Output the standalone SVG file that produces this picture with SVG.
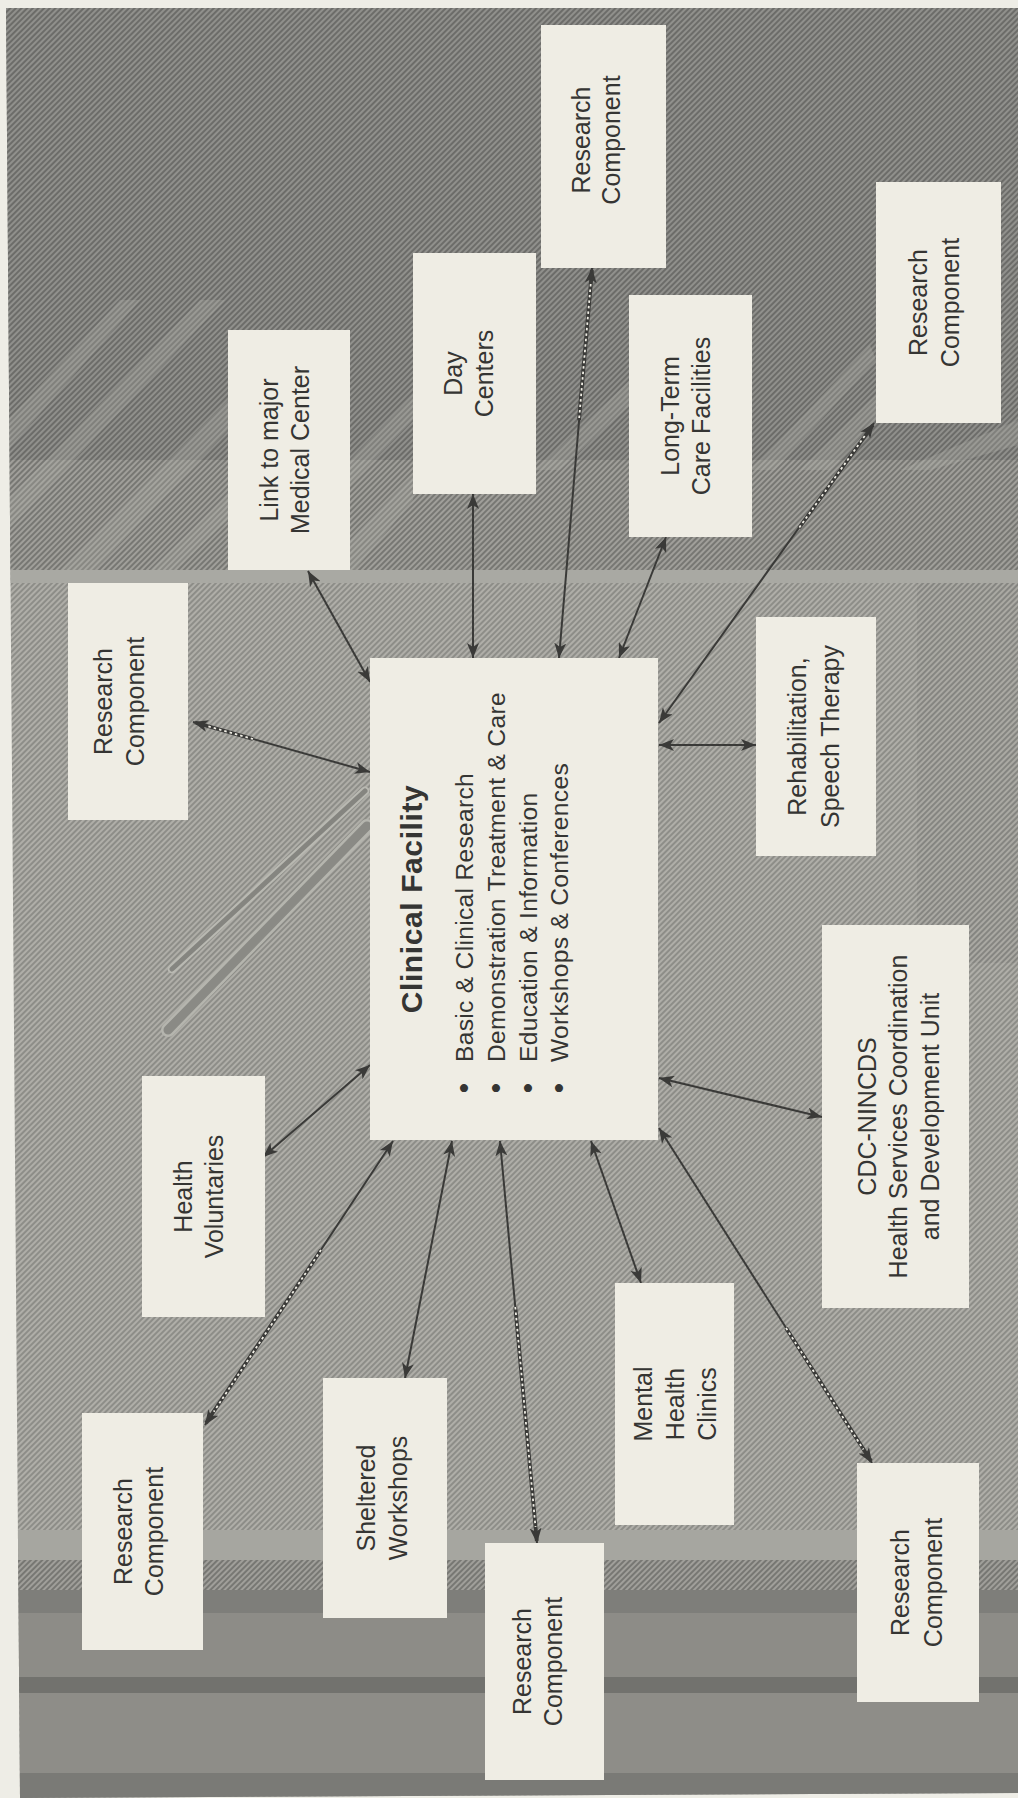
<svg xmlns="http://www.w3.org/2000/svg" width="1018" height="1798" viewBox="0 0 1018 1798">
<defs>
<style>
.box{fill:#efede4;}
.lbl{font-family:"Liberation Sans",Arial,Helvetica,sans-serif;font-size:25px;fill:#353533;text-anchor:middle;}
.title{font-family:"Liberation Sans",Arial,Helvetica,sans-serif;font-size:30px;font-weight:bold;fill:#353533;text-anchor:middle;letter-spacing:0.6px;}
.body{font-family:"Liberation Sans",Arial,Helvetica,sans-serif;font-size:24.6px;fill:#353533;text-anchor:start;letter-spacing:0.3px;}
.bul{font-family:"Liberation Sans",Arial,Helvetica,sans-serif;font-size:30px;fill:#353533;text-anchor:middle;}
.conn{stroke:#3a3a38;stroke-width:2;fill:none;marker-start:url(#ah);marker-end:url(#ah);}
.dbase{stroke:#3a3a38;stroke-width:3.8;fill:none;}
.dots{stroke:#f1efe6;stroke-width:1.8;stroke-dasharray:2.5 3;fill:none;}
.streak{fill:#b0b0a9;opacity:0.3;}
</style>
<marker id="ah" markerUnits="userSpaceOnUse" viewBox="0 0 16 12" markerWidth="16" markerHeight="12" refX="15" refY="6" orient="auto-start-reverse">
<path d="M0,0 L15,6 L0,12 L4,6 z" fill="#3a3a38"/>
</marker>
<pattern id="hMid" width="4" height="4" patternUnits="userSpaceOnUse" patternTransform="rotate(45)">
<rect width="4" height="4" fill="#afaea8"/><rect width="2" height="4" fill="#8d8d88"/>
</pattern>
<pattern id="hDark" width="4" height="4" patternUnits="userSpaceOnUse" patternTransform="rotate(45)">
<rect width="4" height="4" fill="#90908c"/><rect width="2" height="4" fill="#6c6c69"/>
</pattern>
<pattern id="hMed" width="4" height="4" patternUnits="userSpaceOnUse" patternTransform="rotate(45)">
<rect width="4" height="4" fill="#a09f9a"/><rect width="2" height="4" fill="#777773"/>
</pattern>
<clipPath id="page"><polygon points="6,8 1018,8 1018,1793 20,1798"/></clipPath>
</defs>

<g id="background">
<rect x="0" y="0" width="1018" height="1798" fill="#eeede6"/>
<g clip-path="url(#page)">
<rect x="0" y="0" width="1018" height="1798" fill="url(#hMid)"/>
<rect x="0" y="8" width="1018" height="452" fill="url(#hDark)"/>
<rect x="0" y="460" width="1018" height="110" fill="url(#hMed)"/>
<rect x="0" y="570" width="1018" height="13" fill="#a9a9a3"/>
<rect x="917" y="583" width="101" height="380" fill="url(#hMed)" opacity="0.35"/>
<g id="streaks">
<polygon class="streak" points="8,420 120,300 140,300 8,450"/>
<polygon class="streak" points="8,500 200,300 225,300 8,530"/>
<polygon class="streak" points="60,570 228,400 228,430 95,570"/>
<polygon class="streak" points="150,570 228,495 228,520 175,570"/>
<polygon class="streak" points="350,460 413,395 413,420 350,485"/>
<polygon class="streak" points="350,540 413,475 413,500 355,570 350,570"/>
<polygon class="streak" points="536,470 630,380 630,405 560,470"/>
<polygon class="streak" points="752,470 870,345 876,360 775,470"/>
<polygon class="streak" points="800,470 876,395 876,420 830,470"/>
<polygon class="streak" points="900,470 1018,420 1018,445 930,470"/>
</g>
<line x1="172" y1="969" x2="365" y2="791" stroke="#b9b9b2" stroke-width="9" stroke-linecap="round"/>
<line x1="172" y1="969" x2="365" y2="791" stroke="#858580" stroke-width="5" stroke-linecap="round"/>
<line x1="168" y1="1030" x2="367" y2="826" stroke="#b5b5ae" stroke-width="14" stroke-linecap="round"/>
<line x1="168" y1="1030" x2="367" y2="826" stroke="#8a8a85" stroke-width="9" stroke-linecap="round"/>
<rect x="0" y="1530" width="1018" height="30" fill="#a6a6a0"/>
<rect x="0" y="1560" width="1018" height="30" fill="url(#hMed)"/>
<rect x="0" y="1590" width="1018" height="23" fill="#7e7e7a"/>
<rect x="0" y="1613" width="1018" height="64" fill="#8d8c87"/>
<rect x="0" y="1677" width="1018" height="16" fill="#72726e"/>
<rect x="0" y="1693" width="1018" height="80" fill="#8e8d88"/>
<rect x="0" y="1773" width="1018" height="25" fill="#7a7a76"/>
</g>
</g>

<g id="connectors">
<line class="conn" x1="308" y1="571" x2="370" y2="682"/>
<line class="conn" x1="473" y1="494" x2="473" y2="658"/>
<line class="conn" x1="592" y1="268" x2="559" y2="658"/>
<line class="dbase" x1="592" y1="270" x2="579" y2="420"/>
<line class="dots" x1="590.7" y1="284" x2="579" y2="420"/>
<line class="conn" x1="666" y1="537" x2="619" y2="658"/>
<line class="conn" x1="874" y1="423" x2="659" y2="723"/>
<line class="dbase" x1="873" y1="425" x2="799" y2="528"/>
<line class="dots" x1="864.7" y1="436" x2="799" y2="528"/>
<line class="conn" x1="659" y1="745" x2="756" y2="745"/>
<line class="conn" x1="659" y1="1078" x2="822" y2="1117"/>
<line class="conn" x1="659" y1="1128" x2="872" y2="1463"/>
<line class="dbase" x1="786" y1="1328" x2="871" y2="1461"/>
<line class="dots" x1="786" y1="1328" x2="863.4" y2="1449.5"/>
<line class="conn" x1="591" y1="1141" x2="641" y2="1283"/>
<line class="conn" x1="500" y1="1141" x2="537" y2="1543"/>
<line class="dbase" x1="515.3" y1="1307" x2="536.8" y2="1541"/>
<line class="dots" x1="515.3" y1="1307" x2="535.5" y2="1527"/>
<line class="conn" x1="452" y1="1141" x2="405" y2="1378"/>
<line class="conn" x1="393" y1="1141" x2="205" y2="1425"/>
<line class="dbase" x1="321" y1="1250" x2="206" y2="1423"/>
<line class="dots" x1="321" y1="1250" x2="213.8" y2="1411.7"/>
<line class="conn" x1="370" y1="1065" x2="263" y2="1157"/>
<line class="conn" x1="193" y1="722" x2="370" y2="772"/>
<line class="dbase" x1="195" y1="722.5" x2="253" y2="739"/>
<line class="dots" x1="208.4" y1="726.4" x2="253" y2="739"/>
</g>

<g id="clinical-facility">
<rect class="box" x="370" y="658" width="288" height="482"/>
<text class="title" transform="translate(370 899) rotate(-90)" x="0" y="52">Clinical Facility</text>
<text class="body" transform="translate(370 1062) rotate(-90)"><tspan x="0" y="103">Basic &amp; Clinical Research</tspan><tspan x="0" y="135">Demonstration Treatment &amp; Care</tspan><tspan x="0" y="167">Education &amp; Information</tspan><tspan x="0" y="198">Workshops &amp; Conferences</tspan></text>
<text class="bul" transform="translate(370 1062) rotate(-90)"><tspan x="-26" y="104">•</tspan><tspan x="-26" y="136">•</tspan><tspan x="-26" y="168">•</tspan><tspan x="-26" y="199">•</tspan></text>
</g>

<g id="research-top">
<rect class="box" x="541" y="25" width="125" height="243"/>
<text class="lbl" transform="translate(603.5 140) rotate(-90)"><tspan x="0" y="-14">Research</tspan><tspan x="0" y="16">Component</tspan></text>
</g>
<g id="link-medical-center">
<rect class="box" x="228" y="330" width="122" height="240"/>
<text class="lbl" transform="translate(289 450) rotate(-90)"><tspan x="0" y="-11">Link to major</tspan><tspan x="0" y="19.5">Medical Center</tspan></text>
</g>
<g id="day-centers">
<rect class="box" x="413" y="253" width="123" height="241"/>
<text class="lbl" transform="translate(474.5 373.5) rotate(-90)"><tspan x="0" y="-12.5">Day</tspan><tspan x="0" y="18.5">Centers</tspan></text>
</g>
<g id="long-term-care">
<rect class="box" x="629" y="295" width="123" height="242"/>
<text class="lbl" transform="translate(690.5 416) rotate(-90)"><tspan x="0" y="-12">Long-Term</tspan><tspan x="0" y="19.5">Care Facilities</tspan></text>
</g>
<g id="research-right">
<rect class="box" x="876" y="182" width="125" height="241"/>
<text class="lbl" transform="translate(938.5 302.5) rotate(-90)"><tspan x="0" y="-11.5">Research</tspan><tspan x="0" y="20.5">Component</tspan></text>
</g>
<g id="research-left">
<rect class="box" x="68" y="583" width="120" height="237"/>
<text class="lbl" transform="translate(128 701.5) rotate(-90)"><tspan x="0" y="-16">Research</tspan><tspan x="0" y="15.5">Component</tspan></text>
</g>
<g id="rehabilitation">
<rect class="box" x="756" y="617" width="120" height="239"/>
<text class="lbl" transform="translate(816 736.5) rotate(-90)"><tspan x="0" y="-10">Rehabilitation,</tspan><tspan x="0" y="23">Speech Therapy</tspan></text>
</g>
<g id="cdc-nincds">
<rect class="box" x="822" y="925" width="147" height="383"/>
<text class="lbl" transform="translate(895.5 1116.5) rotate(-90)"><tspan x="0" y="-20">CDC-NINCDS</tspan><tspan x="0" y="11.5">Health Services Coordination</tspan><tspan x="0" y="43">and Development Unit</tspan></text>
</g>
<g id="health-voluntaries">
<rect class="box" x="142" y="1076" width="123" height="241"/>
<text class="lbl" transform="translate(203.5 1196.5) rotate(-90)"><tspan x="0" y="-11.5">Health</tspan><tspan x="0" y="19.5">Voluntaries</tspan></text>
</g>
<g id="research-bottom-left">
<rect class="box" x="82" y="1413" width="121" height="237"/>
<text class="lbl" transform="translate(142.5 1531.5) rotate(-90)"><tspan x="0" y="-10.5">Research</tspan><tspan x="0" y="20.5">Component</tspan></text>
</g>
<g id="sheltered-workshops">
<rect class="box" x="323" y="1378" width="124" height="240"/>
<text class="lbl" transform="translate(385 1498) rotate(-90)"><tspan x="0" y="-10">Sheltered</tspan><tspan x="0" y="22">Workshops</tspan></text>
</g>
<g id="research-bottom-middle">
<rect class="box" x="485" y="1543" width="119" height="237"/>
<text class="lbl" transform="translate(544.5 1661.5) rotate(-90)"><tspan x="0" y="-13.5">Research</tspan><tspan x="0" y="17.5">Component</tspan></text>
</g>
<g id="mental-health-clinics">
<rect class="box" x="615" y="1283" width="119" height="242"/>
<text class="lbl" transform="translate(674.5 1404) rotate(-90)"><tspan x="0" y="-22.5">Mental</tspan><tspan x="0" y="9.5">Health</tspan><tspan x="0" y="41.5">Clinics</tspan></text>
</g>
<g id="research-bottom-right">
<rect class="box" x="857" y="1463" width="122" height="239"/>
<text class="lbl" transform="translate(918 1582.5) rotate(-90)"><tspan x="0" y="-9">Research</tspan><tspan x="0" y="24">Component</tspan></text>
</g>
</svg>
